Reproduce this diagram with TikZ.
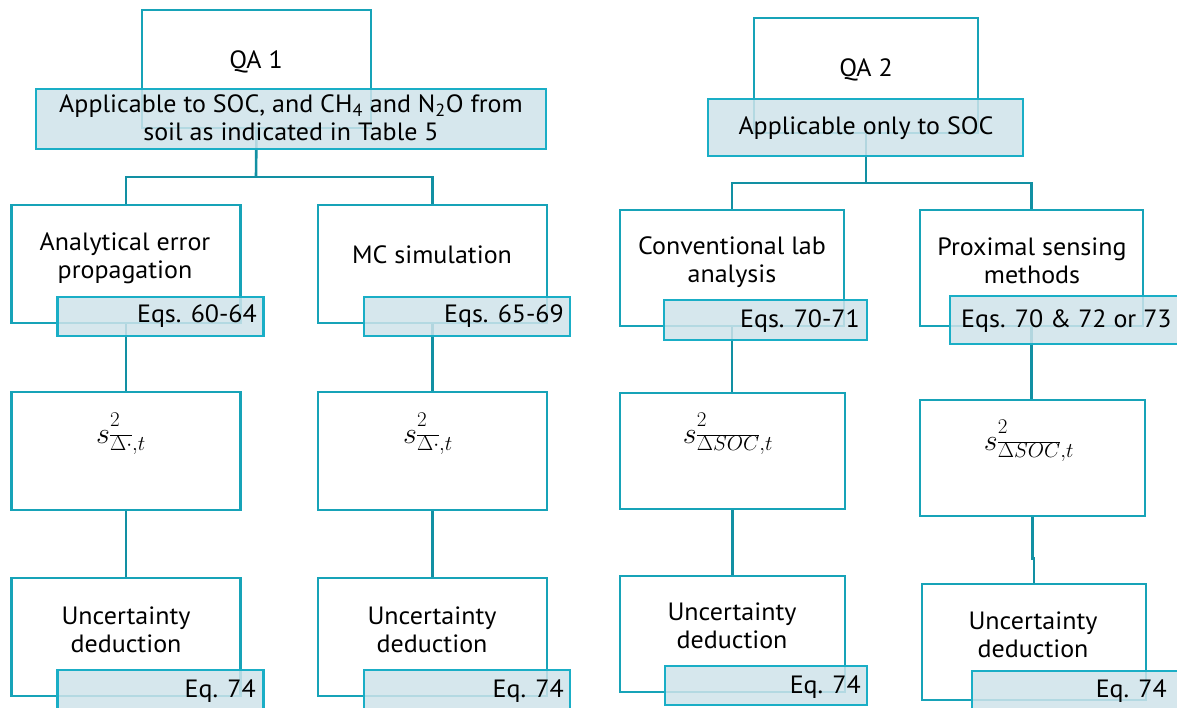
\documentclass[tikz,border=0pt]{standalone}
\usepackage{fix-cm}
\usepackage{fontspec}
\setmainfont[FakeStretch=1.04]{PT Sans}
\definecolor{boxc}{HTML}{17A3B8}
\definecolor{connc}{HTML}{1290A3}
\definecolor{eqfill}{HTML}{CFE3EA}
\definecolor{eqline}{HTML}{1AAEC6}
\newcommand{\supsep}{\vrule width 0pt depth 6pt}
\tikzset{
 whitebox/.style={draw=boxc, line width=2.6pt, fill=white, inner sep=0pt, rectangle},
 eqbox/.style={draw=eqline, line width=2.6pt, fill=eqfill, fill opacity=0.85, inner sep=0pt, rectangle},
 conn/.style={draw=connc, line width=2.6pt},
 lbl/.style={font=\fontsize{25}{28}\selectfont, inner sep=0pt, align=center, text=black},
 mth/.style={font=\fontsize{30}{32}\selectfont, inner sep=0pt, text=black},
}
\begin{document}
\begin{tikzpicture}[x=1pt,y=-1pt]
\useasboundingbox (0,0) rectangle (1177,708);
% ---------- white boxes, left tree
\node[whitebox, minimum width=229pt, minimum height=118pt] (qa1) at (256.5,69) {};
\node[whitebox, minimum width=229pt, minimum height=118pt] (A) at (126,264) {};
\node[whitebox, minimum width=229pt, minimum height=118pt] (B) at (432.5,264) {};
\node[whitebox, minimum width=229pt, minimum height=118pt] (sA) at (126,451) {};
\node[whitebox, minimum width=229pt, minimum height=118pt] (sB) at (432.5,451) {};
\node[whitebox, minimum width=229pt, minimum height=118pt] (uA) at (126,637) {};
\node[whitebox, minimum width=229pt, minimum height=118pt] (uB) at (432.5,637) {};
% ---------- white boxes, right tree
\node[whitebox, minimum width=224pt, minimum height=115pt] (qa2) at (866,75.5) {};
\node[whitebox, minimum width=224pt, minimum height=116pt] (C) at (732,268) {};
\node[whitebox, minimum width=223pt, minimum height=116pt] (D) at (1031.5,268) {};
\node[whitebox, minimum width=225pt, minimum height=116pt] (sC) at (732.5,451) {};
\node[whitebox, minimum width=225pt, minimum height=116pt] (sD) at (1032.5,458) {};
\node[whitebox, minimum width=225pt, minimum height=116pt] (uC) at (732.5,634) {};
\node[whitebox, minimum width=224pt, minimum height=116pt] (uD) at (1034,642) {};
% ---------- connectors
\coordinate (j1) at (256,177);
\coordinate (j2) at (866,183);
\draw[conn] (qa1.south) -- (j1);
\draw[conn] (A.north) |- (j1) -| (B.north);
\draw[conn] (A.south) -- (sA.north);
\draw[conn] (B.south) -- (sB.north);
\draw[conn] (sA.south) -- (uA.north);
\draw[conn] (sB.south) -- (uB.north);
\draw[conn] (qa2.south) -- (j2);
\draw[conn] (C.north) |- (j2) -| (D.north);
\draw[conn] (C.south) -- (C.south |- sC.north);
\draw[conn] (D.south) -- (D.south |- sD.north);
\draw[conn] (sC.south) -- (sC.south |- uC.north);
\draw[conn] (sD.south) -- ++(0,41) -| (uD.north);
% ---------- label boxes
\node[eqbox, minimum width=510pt, minimum height=60pt] (app1) at (291,119) {};
\node[eqbox, minimum width=206pt, minimum height=39pt] (eqA) at (160.5,316.5) {};
\node[eqbox, minimum width=206pt, minimum height=39pt] (eqB) at (467,316.5) {};
\node[eqbox, minimum width=206pt, minimum height=45pt] (e74A) at (160.5,692.5) {};
\node[eqbox, minimum width=206pt, minimum height=45pt] (e74B) at (467,692.5) {};
\node[eqbox, minimum width=315pt, minimum height=57pt] (app2) at (865.5,127.5) {};
\node[eqbox, minimum width=203pt, minimum height=40pt] (eqC) at (765.5,320) {};
\node[eqbox, minimum width=240pt, minimum height=48pt] (eqD) at (1070,320) {};
\node[eqbox, minimum width=202pt, minimum height=39pt] (e74C) at (766,685.5) {};
\node[eqbox, minimum width=218pt, minimum height=44pt] (e74D) at (1081,693) {};
% ---------- texts, left tree
\node[lbl, anchor=base] (tqa1) at (256,69) {QA 1};
\node[lbl] (tapp1) at (291,118) {Applicable to SOC, and CH\textsubscript{4} and N\textsubscript{2}O from\\soil as indicated in Table 5};
\node[lbl] (tA) at (125,258) {Analytical error\\propagation};
\node[lbl, anchor=base] (tB) at (432,264) {MC simulation};
\node[lbl, anchor=base east] (teqA) at (257,323) {Eqs. 60-64};
\node[lbl, anchor=base east] (teqB) at (564,323) {Eqs. 65-69};
\node[mth, anchor=base] (msA) at (121,443) {$s^{2\supsep}_{\overline{\Delta\cdot},t}$};
\node[mth, anchor=base] (msB) at (428,443) {$s^{2\supsep}_{\overline{\Delta\cdot},t}$};
\node[lbl] (tuA) at (126,630) {Uncertainty\\deduction};
\node[lbl] (tuB) at (432,630) {Uncertainty\\deduction};
\node[lbl, anchor=base east] (t74A) at (256,697) {Eq. 74};
\node[lbl, anchor=base east] (t74B) at (564,697) {Eq. 74};
% ---------- texts, right tree
\node[lbl, anchor=base] (tqa2) at (866,77) {QA 2};
\node[lbl, anchor=base] (tapp2) at (866,135) {Applicable only to SOC};
\node[lbl] (tC) at (732,262) {Conventional lab\\analysis};
\node[lbl] (tD) at (1032,261) {Proximal sensing\\methods};
\node[lbl, anchor=base east] (teqC) at (860,327) {Eqs. 70-71};
\node[lbl, anchor=base west] (teqD) at (961,327) {Eqs. 70 \& 72 or 73};
\node[mth, anchor=base] (msC) at (728,443) {$s^{2\supsep}_{\overline{\Delta SOC},t}$};
\node[mth, anchor=base] (msD) at (1029,450) {$s^{2\supsep}_{\overline{\Delta SOC},t}$};
\node[lbl] (tuC) at (732,626) {Uncertainty\\deduction};
\node[lbl] (tuD) at (1033,635) {Uncertainty\\deduction};
\node[lbl, anchor=base east] (t74C) at (861,693) {Eq. 74};
\node[lbl, anchor=base east] (t74D) at (1167,697) {Eq. 74};
\end{tikzpicture}
\end{document}
